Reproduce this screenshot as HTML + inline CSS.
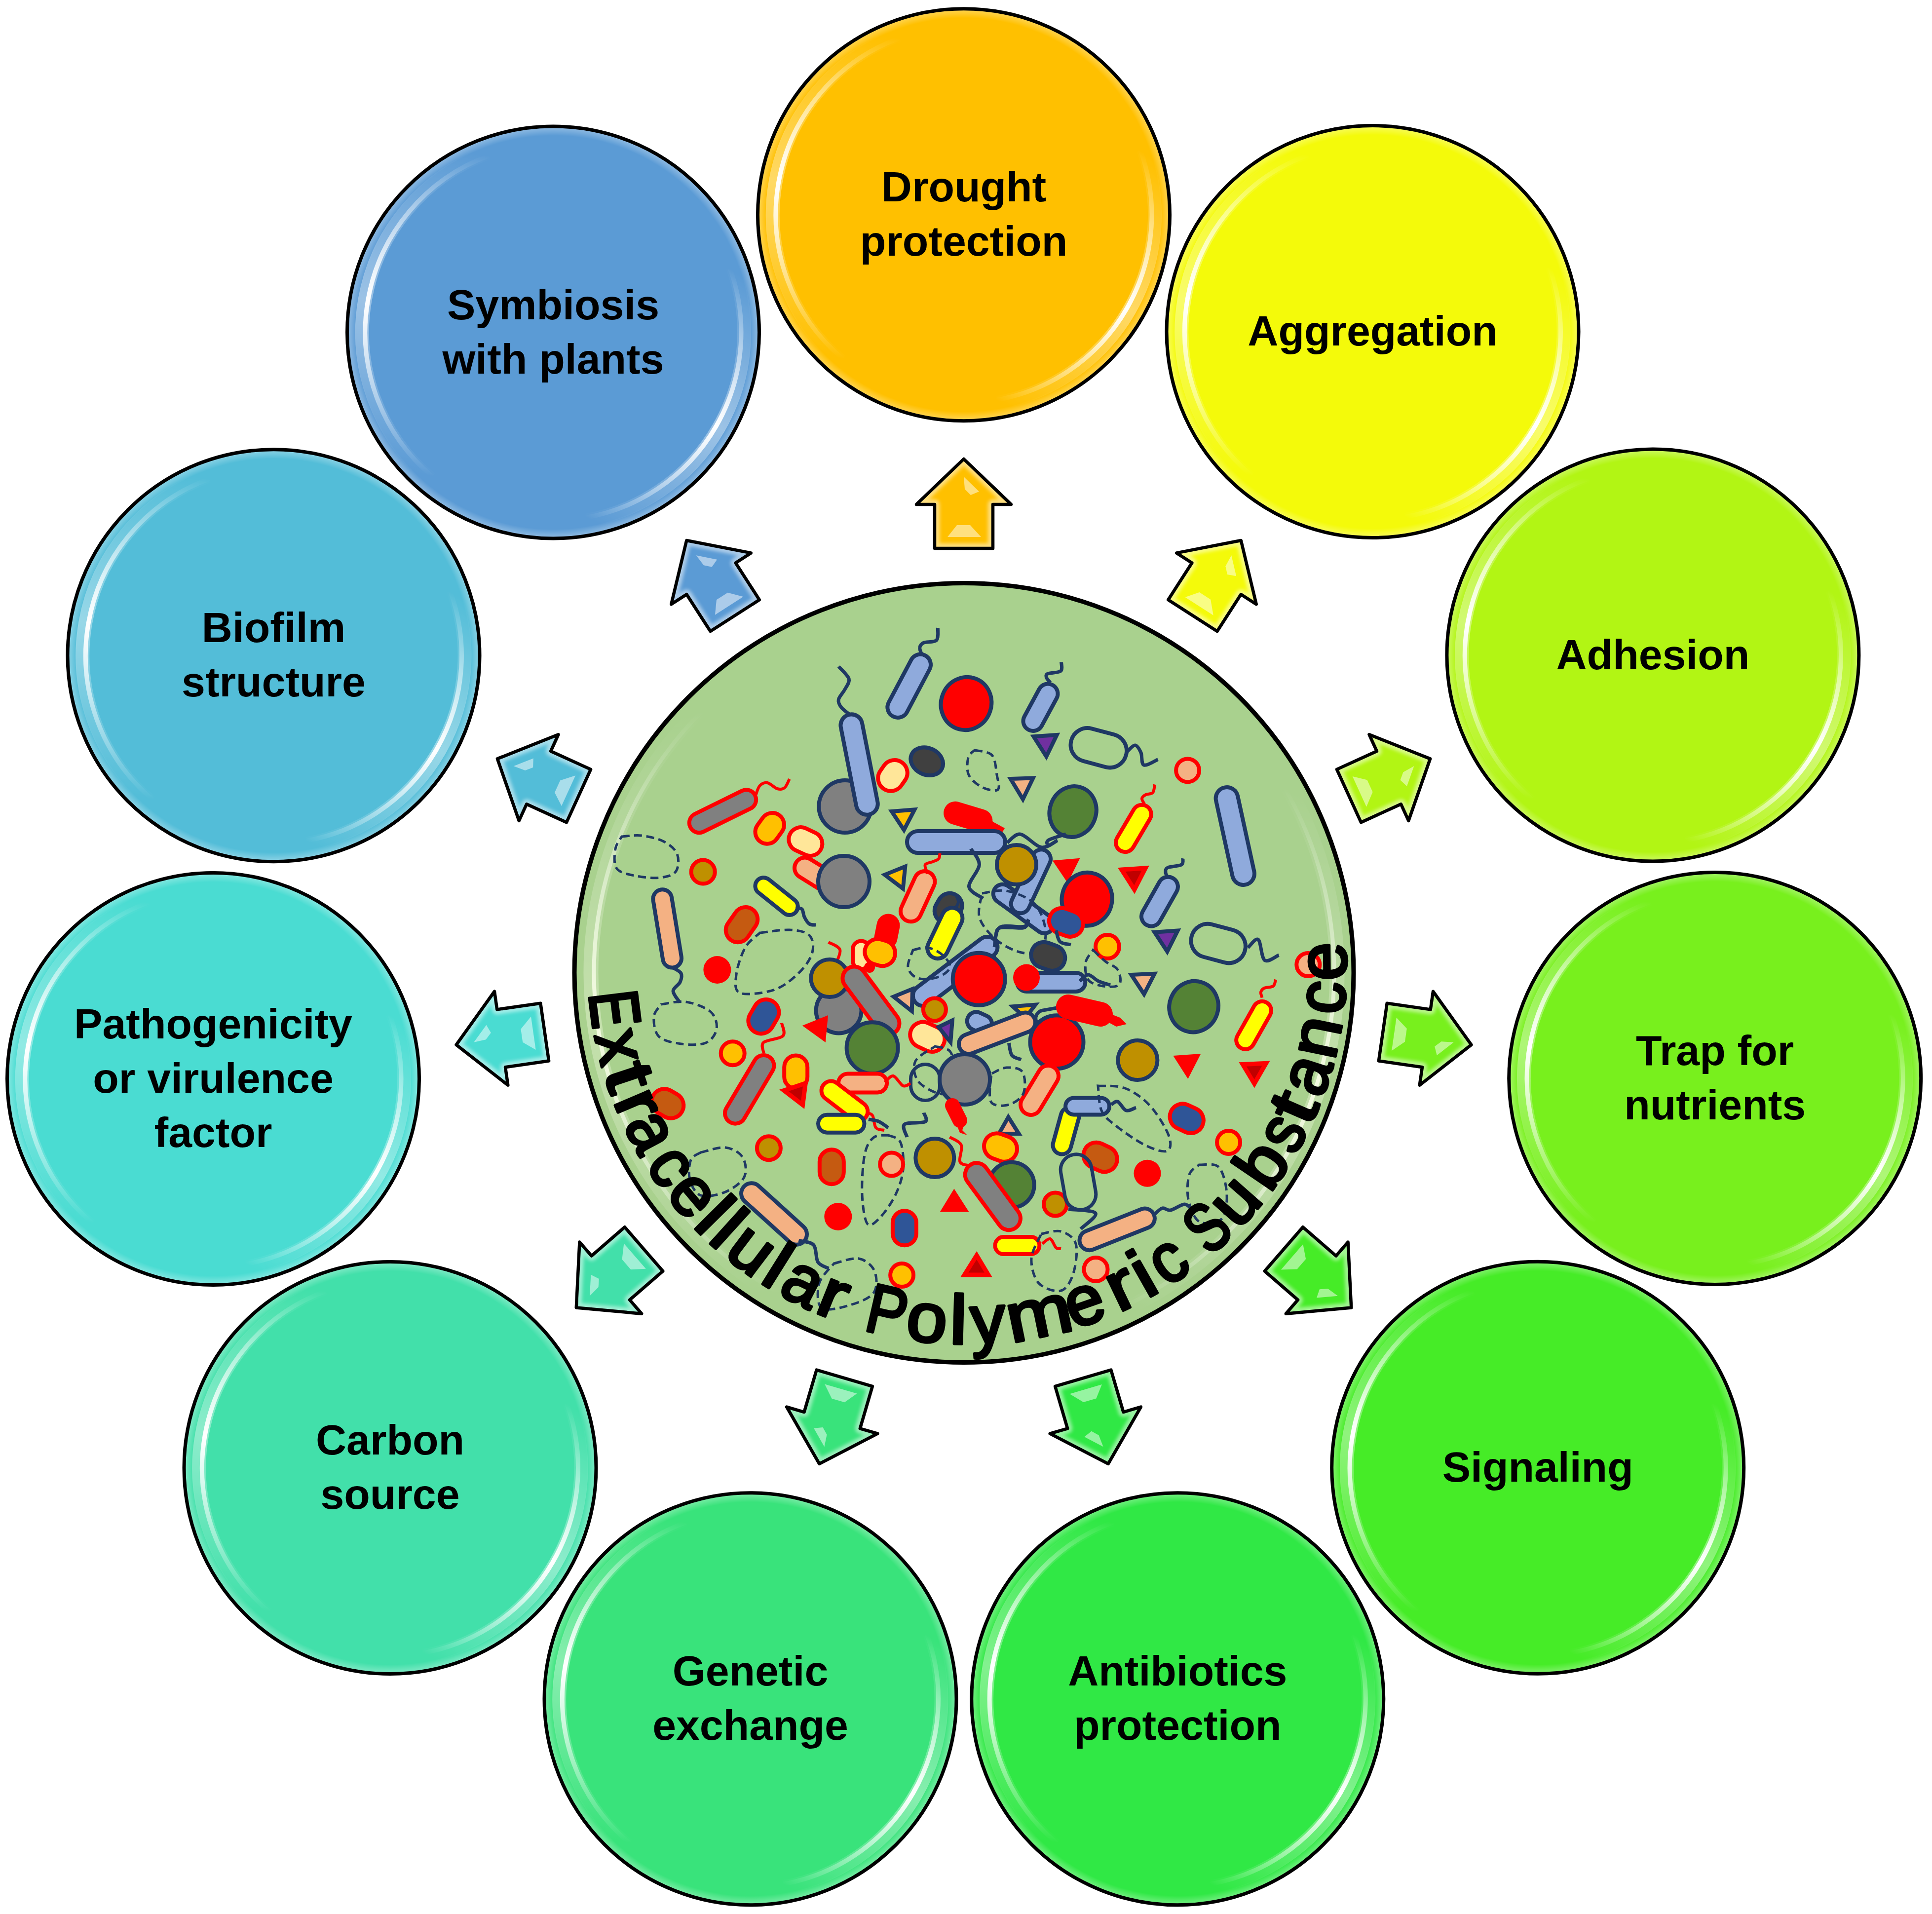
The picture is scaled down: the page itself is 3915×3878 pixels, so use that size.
<!DOCTYPE html>
<html><head><meta charset="utf-8"><style>
html,body{margin:0;padding:0;background:#fff;}
svg{display:block;}
text{font-family:"Liberation Sans",sans-serif;}
</style></head><body>
<svg width="3915" height="3878" viewBox="0 0 3915 3878">
<defs>
<filter id="soft" x="-20%" y="-20%" width="140%" height="140%"><feGaussianBlur stdDeviation="3.5"/></filter>
<radialGradient id="edge" cx="0.5" cy="0.5" r="0.5">
<stop offset="0.955" stop-color="#fff" stop-opacity="0"/>
<stop offset="1" stop-color="#fff" stop-opacity="0.35"/>
</radialGradient>
</defs>
<rect width="3915" height="3878" fill="#fff"/>

<circle cx="1953" cy="435.2" r="417.5" fill="#FFC000"/>
<circle cx="1953" cy="435.2" r="417.5" fill="url(#edge)"/>
<linearGradient id="hg0_110" gradientUnits="userSpaceOnUse" x1="1822.7" y1="77.2" x2="1708.1" y2="727.1"><stop offset="0" stop-color="#fff" stop-opacity="0"/><stop offset="0.5" stop-color="#fff" stop-opacity="1"/><stop offset="1" stop-color="#fff" stop-opacity="0"/></linearGradient>
<path d="M1820.6,71.5 A387,387 0 0 0 1704.2,731.7" fill="none" stroke="url(#hg0_110)" stroke-width="28" opacity="0.4"/>
<path d="M1822.7,77.2 A381,381 0 0 0 1708.1,727.1" fill="none" stroke="url(#hg0_110)" stroke-width="9" opacity="1.0"/>
<linearGradient id="hg0_-80" gradientUnits="userSpaceOnUse" x1="2019.2" y1="810.4" x2="2311.0" y2="304.9"><stop offset="0" stop-color="#fff" stop-opacity="0"/><stop offset="0.5" stop-color="#fff" stop-opacity="1"/><stop offset="1" stop-color="#fff" stop-opacity="0"/></linearGradient>
<path d="M2020.2,816.3 A387,387 0 0 0 2316.7,302.8" fill="none" stroke="url(#hg0_-80)" stroke-width="28" opacity="0.4"/>
<path d="M2019.2,810.4 A381,381 0 0 0 2311.0,304.9" fill="none" stroke="url(#hg0_-80)" stroke-width="9" opacity="1.0"/>
<circle cx="1953" cy="435.2" r="417.5" fill="none" stroke="#000" stroke-width="7"/>
<circle cx="2781.5" cy="672" r="417.5" fill="#F4FA0A"/>
<circle cx="2781.5" cy="672" r="417.5" fill="url(#edge)"/>
<linearGradient id="hg1_110" gradientUnits="userSpaceOnUse" x1="2651.2" y1="314.0" x2="2536.6" y2="963.9"><stop offset="0" stop-color="#fff" stop-opacity="0"/><stop offset="0.5" stop-color="#fff" stop-opacity="1"/><stop offset="1" stop-color="#fff" stop-opacity="0"/></linearGradient>
<path d="M2649.1,308.3 A387,387 0 0 0 2532.7,968.5" fill="none" stroke="url(#hg1_110)" stroke-width="28" opacity="0.4"/>
<path d="M2651.2,314.0 A381,381 0 0 0 2536.6,963.9" fill="none" stroke="url(#hg1_110)" stroke-width="9" opacity="1.0"/>
<linearGradient id="hg1_-80" gradientUnits="userSpaceOnUse" x1="2847.7" y1="1047.2" x2="3139.5" y2="541.7"><stop offset="0" stop-color="#fff" stop-opacity="0"/><stop offset="0.5" stop-color="#fff" stop-opacity="1"/><stop offset="1" stop-color="#fff" stop-opacity="0"/></linearGradient>
<path d="M2848.7,1053.1 A387,387 0 0 0 3145.2,539.6" fill="none" stroke="url(#hg1_-80)" stroke-width="28" opacity="0.4"/>
<path d="M2847.7,1047.2 A381,381 0 0 0 3139.5,541.7" fill="none" stroke="url(#hg1_-80)" stroke-width="9" opacity="1.0"/>
<circle cx="2781.5" cy="672" r="417.5" fill="none" stroke="#000" stroke-width="7"/>
<circle cx="3349.4" cy="1327.6" r="417.5" fill="#B2F514"/>
<circle cx="3349.4" cy="1327.6" r="417.5" fill="url(#edge)"/>
<linearGradient id="hg2_110" gradientUnits="userSpaceOnUse" x1="3219.1" y1="969.6" x2="3104.5" y2="1619.5"><stop offset="0" stop-color="#fff" stop-opacity="0"/><stop offset="0.5" stop-color="#fff" stop-opacity="1"/><stop offset="1" stop-color="#fff" stop-opacity="0"/></linearGradient>
<path d="M3217.0,963.9 A387,387 0 0 0 3100.6,1624.1" fill="none" stroke="url(#hg2_110)" stroke-width="28" opacity="0.4"/>
<path d="M3219.1,969.6 A381,381 0 0 0 3104.5,1619.5" fill="none" stroke="url(#hg2_110)" stroke-width="9" opacity="1.0"/>
<linearGradient id="hg2_-80" gradientUnits="userSpaceOnUse" x1="3415.6" y1="1702.8" x2="3707.4" y2="1197.3"><stop offset="0" stop-color="#fff" stop-opacity="0"/><stop offset="0.5" stop-color="#fff" stop-opacity="1"/><stop offset="1" stop-color="#fff" stop-opacity="0"/></linearGradient>
<path d="M3416.6,1708.7 A387,387 0 0 0 3713.1,1195.2" fill="none" stroke="url(#hg2_-80)" stroke-width="28" opacity="0.4"/>
<path d="M3415.6,1702.8 A381,381 0 0 0 3707.4,1197.3" fill="none" stroke="url(#hg2_-80)" stroke-width="9" opacity="1.0"/>
<circle cx="3349.4" cy="1327.6" r="417.5" fill="none" stroke="#000" stroke-width="7"/>
<circle cx="3475.2" cy="2185" r="417.5" fill="#78F01D"/>
<circle cx="3475.2" cy="2185" r="417.5" fill="url(#edge)"/>
<linearGradient id="hg3_110" gradientUnits="userSpaceOnUse" x1="3344.9" y1="1827.0" x2="3230.3" y2="2476.9"><stop offset="0" stop-color="#fff" stop-opacity="0"/><stop offset="0.5" stop-color="#fff" stop-opacity="1"/><stop offset="1" stop-color="#fff" stop-opacity="0"/></linearGradient>
<path d="M3342.8,1821.3 A387,387 0 0 0 3226.4,2481.5" fill="none" stroke="url(#hg3_110)" stroke-width="28" opacity="0.4"/>
<path d="M3344.9,1827.0 A381,381 0 0 0 3230.3,2476.9" fill="none" stroke="url(#hg3_110)" stroke-width="9" opacity="1.0"/>
<linearGradient id="hg3_-80" gradientUnits="userSpaceOnUse" x1="3541.4" y1="2560.2" x2="3833.2" y2="2054.7"><stop offset="0" stop-color="#fff" stop-opacity="0"/><stop offset="0.5" stop-color="#fff" stop-opacity="1"/><stop offset="1" stop-color="#fff" stop-opacity="0"/></linearGradient>
<path d="M3542.4,2566.1 A387,387 0 0 0 3838.9,2052.6" fill="none" stroke="url(#hg3_-80)" stroke-width="28" opacity="0.4"/>
<path d="M3541.4,2560.2 A381,381 0 0 0 3833.2,2054.7" fill="none" stroke="url(#hg3_-80)" stroke-width="9" opacity="1.0"/>
<circle cx="3475.2" cy="2185" r="417.5" fill="none" stroke="#000" stroke-width="7"/>
<circle cx="3116.2" cy="2973.8" r="417.5" fill="#46EC27"/>
<circle cx="3116.2" cy="2973.8" r="417.5" fill="url(#edge)"/>
<linearGradient id="hg4_110" gradientUnits="userSpaceOnUse" x1="2985.9" y1="2615.8" x2="2871.3" y2="3265.7"><stop offset="0" stop-color="#fff" stop-opacity="0"/><stop offset="0.5" stop-color="#fff" stop-opacity="1"/><stop offset="1" stop-color="#fff" stop-opacity="0"/></linearGradient>
<path d="M2983.8,2610.1 A387,387 0 0 0 2867.4,3270.3" fill="none" stroke="url(#hg4_110)" stroke-width="28" opacity="0.4"/>
<path d="M2985.9,2615.8 A381,381 0 0 0 2871.3,3265.7" fill="none" stroke="url(#hg4_110)" stroke-width="9" opacity="1.0"/>
<linearGradient id="hg4_-80" gradientUnits="userSpaceOnUse" x1="3182.4" y1="3349.0" x2="3474.2" y2="2843.5"><stop offset="0" stop-color="#fff" stop-opacity="0"/><stop offset="0.5" stop-color="#fff" stop-opacity="1"/><stop offset="1" stop-color="#fff" stop-opacity="0"/></linearGradient>
<path d="M3183.4,3354.9 A387,387 0 0 0 3479.9,2841.4" fill="none" stroke="url(#hg4_-80)" stroke-width="28" opacity="0.4"/>
<path d="M3182.4,3349.0 A381,381 0 0 0 3474.2,2843.5" fill="none" stroke="url(#hg4_-80)" stroke-width="9" opacity="1.0"/>
<circle cx="3116.2" cy="2973.8" r="417.5" fill="none" stroke="#000" stroke-width="7"/>
<circle cx="2386.3" cy="3442.2" r="417.5" fill="#30E845"/>
<circle cx="2386.3" cy="3442.2" r="417.5" fill="url(#edge)"/>
<linearGradient id="hg5_110" gradientUnits="userSpaceOnUse" x1="2256.0" y1="3084.2" x2="2141.4" y2="3734.1"><stop offset="0" stop-color="#fff" stop-opacity="0"/><stop offset="0.5" stop-color="#fff" stop-opacity="1"/><stop offset="1" stop-color="#fff" stop-opacity="0"/></linearGradient>
<path d="M2253.9,3078.5 A387,387 0 0 0 2137.5,3738.7" fill="none" stroke="url(#hg5_110)" stroke-width="28" opacity="0.4"/>
<path d="M2256.0,3084.2 A381,381 0 0 0 2141.4,3734.1" fill="none" stroke="url(#hg5_110)" stroke-width="9" opacity="1.0"/>
<linearGradient id="hg5_-80" gradientUnits="userSpaceOnUse" x1="2452.5" y1="3817.4" x2="2744.3" y2="3311.9"><stop offset="0" stop-color="#fff" stop-opacity="0"/><stop offset="0.5" stop-color="#fff" stop-opacity="1"/><stop offset="1" stop-color="#fff" stop-opacity="0"/></linearGradient>
<path d="M2453.5,3823.3 A387,387 0 0 0 2750.0,3309.8" fill="none" stroke="url(#hg5_-80)" stroke-width="28" opacity="0.4"/>
<path d="M2452.5,3817.4 A381,381 0 0 0 2744.3,3311.9" fill="none" stroke="url(#hg5_-80)" stroke-width="9" opacity="1.0"/>
<circle cx="2386.3" cy="3442.2" r="417.5" fill="none" stroke="#000" stroke-width="7"/>
<circle cx="1520.5" cy="3442.3" r="417.5" fill="#39E37B"/>
<circle cx="1520.5" cy="3442.3" r="417.5" fill="url(#edge)"/>
<linearGradient id="hg6_110" gradientUnits="userSpaceOnUse" x1="1390.2" y1="3084.3" x2="1275.6" y2="3734.2"><stop offset="0" stop-color="#fff" stop-opacity="0"/><stop offset="0.5" stop-color="#fff" stop-opacity="1"/><stop offset="1" stop-color="#fff" stop-opacity="0"/></linearGradient>
<path d="M1388.1,3078.6 A387,387 0 0 0 1271.7,3738.8" fill="none" stroke="url(#hg6_110)" stroke-width="28" opacity="0.4"/>
<path d="M1390.2,3084.3 A381,381 0 0 0 1275.6,3734.2" fill="none" stroke="url(#hg6_110)" stroke-width="9" opacity="1.0"/>
<linearGradient id="hg6_-80" gradientUnits="userSpaceOnUse" x1="1586.7" y1="3817.5" x2="1878.5" y2="3312.0"><stop offset="0" stop-color="#fff" stop-opacity="0"/><stop offset="0.5" stop-color="#fff" stop-opacity="1"/><stop offset="1" stop-color="#fff" stop-opacity="0"/></linearGradient>
<path d="M1587.7,3823.4 A387,387 0 0 0 1884.2,3309.9" fill="none" stroke="url(#hg6_-80)" stroke-width="28" opacity="0.4"/>
<path d="M1586.7,3817.5 A381,381 0 0 0 1878.5,3312.0" fill="none" stroke="url(#hg6_-80)" stroke-width="9" opacity="1.0"/>
<circle cx="1520.5" cy="3442.3" r="417.5" fill="none" stroke="#000" stroke-width="7"/>
<circle cx="790.5" cy="2974" r="417.5" fill="#42E0AA"/>
<circle cx="790.5" cy="2974" r="417.5" fill="url(#edge)"/>
<linearGradient id="hg7_110" gradientUnits="userSpaceOnUse" x1="660.2" y1="2616.0" x2="545.6" y2="3265.9"><stop offset="0" stop-color="#fff" stop-opacity="0"/><stop offset="0.5" stop-color="#fff" stop-opacity="1"/><stop offset="1" stop-color="#fff" stop-opacity="0"/></linearGradient>
<path d="M658.1,2610.3 A387,387 0 0 0 541.7,3270.5" fill="none" stroke="url(#hg7_110)" stroke-width="28" opacity="0.4"/>
<path d="M660.2,2616.0 A381,381 0 0 0 545.6,3265.9" fill="none" stroke="url(#hg7_110)" stroke-width="9" opacity="1.0"/>
<linearGradient id="hg7_-80" gradientUnits="userSpaceOnUse" x1="856.7" y1="3349.2" x2="1148.5" y2="2843.7"><stop offset="0" stop-color="#fff" stop-opacity="0"/><stop offset="0.5" stop-color="#fff" stop-opacity="1"/><stop offset="1" stop-color="#fff" stop-opacity="0"/></linearGradient>
<path d="M857.7,3355.1 A387,387 0 0 0 1154.2,2841.6" fill="none" stroke="url(#hg7_-80)" stroke-width="28" opacity="0.4"/>
<path d="M856.7,3349.2 A381,381 0 0 0 1148.5,2843.7" fill="none" stroke="url(#hg7_-80)" stroke-width="9" opacity="1.0"/>
<circle cx="790.5" cy="2974" r="417.5" fill="none" stroke="#000" stroke-width="7"/>
<circle cx="432" cy="2186" r="417.5" fill="#4ADCD2"/>
<circle cx="432" cy="2186" r="417.5" fill="url(#edge)"/>
<linearGradient id="hg8_110" gradientUnits="userSpaceOnUse" x1="301.7" y1="1828.0" x2="187.1" y2="2477.9"><stop offset="0" stop-color="#fff" stop-opacity="0"/><stop offset="0.5" stop-color="#fff" stop-opacity="1"/><stop offset="1" stop-color="#fff" stop-opacity="0"/></linearGradient>
<path d="M299.6,1822.3 A387,387 0 0 0 183.2,2482.5" fill="none" stroke="url(#hg8_110)" stroke-width="28" opacity="0.4"/>
<path d="M301.7,1828.0 A381,381 0 0 0 187.1,2477.9" fill="none" stroke="url(#hg8_110)" stroke-width="9" opacity="1.0"/>
<linearGradient id="hg8_-80" gradientUnits="userSpaceOnUse" x1="498.2" y1="2561.2" x2="790.0" y2="2055.7"><stop offset="0" stop-color="#fff" stop-opacity="0"/><stop offset="0.5" stop-color="#fff" stop-opacity="1"/><stop offset="1" stop-color="#fff" stop-opacity="0"/></linearGradient>
<path d="M499.2,2567.1 A387,387 0 0 0 795.7,2053.6" fill="none" stroke="url(#hg8_-80)" stroke-width="28" opacity="0.4"/>
<path d="M498.2,2561.2 A381,381 0 0 0 790.0,2055.7" fill="none" stroke="url(#hg8_-80)" stroke-width="9" opacity="1.0"/>
<circle cx="432" cy="2186" r="417.5" fill="none" stroke="#000" stroke-width="7"/>
<circle cx="554.5" cy="1328.3" r="417.5" fill="#53BDD8"/>
<circle cx="554.5" cy="1328.3" r="417.5" fill="url(#edge)"/>
<linearGradient id="hg9_110" gradientUnits="userSpaceOnUse" x1="424.2" y1="970.3" x2="309.6" y2="1620.2"><stop offset="0" stop-color="#fff" stop-opacity="0"/><stop offset="0.5" stop-color="#fff" stop-opacity="1"/><stop offset="1" stop-color="#fff" stop-opacity="0"/></linearGradient>
<path d="M422.1,964.6 A387,387 0 0 0 305.7,1624.8" fill="none" stroke="url(#hg9_110)" stroke-width="28" opacity="0.4"/>
<path d="M424.2,970.3 A381,381 0 0 0 309.6,1620.2" fill="none" stroke="url(#hg9_110)" stroke-width="9" opacity="1.0"/>
<linearGradient id="hg9_-80" gradientUnits="userSpaceOnUse" x1="620.7" y1="1703.5" x2="912.5" y2="1198.0"><stop offset="0" stop-color="#fff" stop-opacity="0"/><stop offset="0.5" stop-color="#fff" stop-opacity="1"/><stop offset="1" stop-color="#fff" stop-opacity="0"/></linearGradient>
<path d="M621.7,1709.4 A387,387 0 0 0 918.2,1195.9" fill="none" stroke="url(#hg9_-80)" stroke-width="28" opacity="0.4"/>
<path d="M620.7,1703.5 A381,381 0 0 0 912.5,1198.0" fill="none" stroke="url(#hg9_-80)" stroke-width="9" opacity="1.0"/>
<circle cx="554.5" cy="1328.3" r="417.5" fill="none" stroke="#000" stroke-width="7"/>
<circle cx="1121" cy="673.5" r="417.5" fill="#5B9BD5"/>
<circle cx="1121" cy="673.5" r="417.5" fill="url(#edge)"/>
<linearGradient id="hg10_110" gradientUnits="userSpaceOnUse" x1="990.7" y1="315.5" x2="876.1" y2="965.4"><stop offset="0" stop-color="#fff" stop-opacity="0"/><stop offset="0.5" stop-color="#fff" stop-opacity="1"/><stop offset="1" stop-color="#fff" stop-opacity="0"/></linearGradient>
<path d="M988.6,309.8 A387,387 0 0 0 872.2,970.0" fill="none" stroke="url(#hg10_110)" stroke-width="28" opacity="0.4"/>
<path d="M990.7,315.5 A381,381 0 0 0 876.1,965.4" fill="none" stroke="url(#hg10_110)" stroke-width="9" opacity="1.0"/>
<linearGradient id="hg10_-80" gradientUnits="userSpaceOnUse" x1="1187.2" y1="1048.7" x2="1479.0" y2="543.2"><stop offset="0" stop-color="#fff" stop-opacity="0"/><stop offset="0.5" stop-color="#fff" stop-opacity="1"/><stop offset="1" stop-color="#fff" stop-opacity="0"/></linearGradient>
<path d="M1188.2,1054.6 A387,387 0 0 0 1484.7,541.1" fill="none" stroke="url(#hg10_-80)" stroke-width="28" opacity="0.4"/>
<path d="M1187.2,1048.7 A381,381 0 0 0 1479.0,543.2" fill="none" stroke="url(#hg10_-80)" stroke-width="9" opacity="1.0"/>
<circle cx="1121" cy="673.5" r="417.5" fill="none" stroke="#000" stroke-width="7"/>
<clipPath id="ac"><path d="M0,-1039 L96,-947 L59,-947 L59,-858 L-59,-858 L-59,-947 L-96,-947 Z"/></clipPath>
<g transform="translate(1953,1969) rotate(0.0000)">
<path d="M0,-1039 L96,-947 L59,-947 L59,-858 L-59,-858 L-59,-947 L-96,-947 Z" fill="#FFC000"/>
<g clip-path="url(#ac)"><path d="M0,-1039 L96,-947 L59,-947 L59,-858 L-59,-858 L-59,-947 L-96,-947 Z" fill="none" stroke="#fff" stroke-width="20" opacity="0.5" stroke-linejoin="round" filter="url(#soft)"/></g>
<path d="M0,-1003 L31,-973 L14,-966 L2,-978 Z" fill="#FFE38C" opacity="0.9"/>
<path d="M-14,-905 L13,-905 L35,-881 L-33,-881 Z" fill="#FFE38C" opacity="0.9"/>
<path d="M0,-1039 L96,-947 L59,-947 L59,-858 L-59,-858 L-59,-947 L-96,-947 Z" fill="none" stroke="#000" stroke-width="6.5" stroke-linejoin="round"/>
</g>
<g transform="translate(1953,1969) rotate(32.7273)">
<path d="M0,-1039 L96,-947 L59,-947 L59,-858 L-59,-858 L-59,-947 L-96,-947 Z" fill="#F4FA0A"/>
<g clip-path="url(#ac)"><path d="M0,-1039 L96,-947 L59,-947 L59,-858 L-59,-858 L-59,-947 L-96,-947 Z" fill="none" stroke="#fff" stroke-width="20" opacity="0.5" stroke-linejoin="round" filter="url(#soft)"/></g>
<path d="M0,-1003 L31,-973 L14,-966 L2,-978 Z" fill="#FAFD91" opacity="0.9"/>
<path d="M-14,-905 L13,-905 L35,-881 L-33,-881 Z" fill="#FAFD91" opacity="0.9"/>
<path d="M0,-1039 L96,-947 L59,-947 L59,-858 L-59,-858 L-59,-947 L-96,-947 Z" fill="none" stroke="#000" stroke-width="6.5" stroke-linejoin="round"/>
</g>
<g transform="translate(1953,1969) rotate(65.4545)">
<path d="M0,-1039 L96,-947 L59,-947 L59,-858 L-59,-858 L-59,-947 L-96,-947 Z" fill="#B2F514"/>
<g clip-path="url(#ac)"><path d="M0,-1039 L96,-947 L59,-947 L59,-858 L-59,-858 L-59,-947 L-96,-947 Z" fill="none" stroke="#fff" stroke-width="20" opacity="0.5" stroke-linejoin="round" filter="url(#soft)"/></g>
<path d="M0,-1003 L31,-973 L14,-966 L2,-978 Z" fill="#DCFB95" opacity="0.9"/>
<path d="M-14,-905 L13,-905 L35,-881 L-33,-881 Z" fill="#DCFB95" opacity="0.9"/>
<path d="M0,-1039 L96,-947 L59,-947 L59,-858 L-59,-858 L-59,-947 L-96,-947 Z" fill="none" stroke="#000" stroke-width="6.5" stroke-linejoin="round"/>
</g>
<g transform="translate(1953,1969) rotate(98.1818)">
<path d="M0,-1039 L96,-947 L59,-947 L59,-858 L-59,-858 L-59,-947 L-96,-947 Z" fill="#78F01D"/>
<g clip-path="url(#ac)"><path d="M0,-1039 L96,-947 L59,-947 L59,-858 L-59,-858 L-59,-947 L-96,-947 Z" fill="none" stroke="#fff" stroke-width="20" opacity="0.5" stroke-linejoin="round" filter="url(#soft)"/></g>
<path d="M0,-1003 L31,-973 L14,-966 L2,-978 Z" fill="#C2F899" opacity="0.9"/>
<path d="M-14,-905 L13,-905 L35,-881 L-33,-881 Z" fill="#C2F899" opacity="0.9"/>
<path d="M0,-1039 L96,-947 L59,-947 L59,-858 L-59,-858 L-59,-947 L-96,-947 Z" fill="none" stroke="#000" stroke-width="6.5" stroke-linejoin="round"/>
</g>
<g transform="translate(1953,1969) rotate(130.9091)">
<path d="M0,-1039 L96,-947 L59,-947 L59,-858 L-59,-858 L-59,-947 L-96,-947 Z" fill="#46EC27"/>
<g clip-path="url(#ac)"><path d="M0,-1039 L96,-947 L59,-947 L59,-858 L-59,-858 L-59,-947 L-96,-947 Z" fill="none" stroke="#fff" stroke-width="20" opacity="0.5" stroke-linejoin="round" filter="url(#soft)"/></g>
<path d="M0,-1003 L31,-973 L14,-966 L2,-978 Z" fill="#ACF69E" opacity="0.9"/>
<path d="M-14,-905 L13,-905 L35,-881 L-33,-881 Z" fill="#ACF69E" opacity="0.9"/>
<path d="M0,-1039 L96,-947 L59,-947 L59,-858 L-59,-858 L-59,-947 L-96,-947 Z" fill="none" stroke="#000" stroke-width="6.5" stroke-linejoin="round"/>
</g>
<g transform="translate(1953,1969) rotate(163.6364)">
<path d="M0,-1039 L96,-947 L59,-947 L59,-858 L-59,-858 L-59,-947 L-96,-947 Z" fill="#30E845"/>
<g clip-path="url(#ac)"><path d="M0,-1039 L96,-947 L59,-947 L59,-858 L-59,-858 L-59,-947 L-96,-947 Z" fill="none" stroke="#fff" stroke-width="20" opacity="0.5" stroke-linejoin="round" filter="url(#soft)"/></g>
<path d="M0,-1003 L31,-973 L14,-966 L2,-978 Z" fill="#A2F5AB" opacity="0.9"/>
<path d="M-14,-905 L13,-905 L35,-881 L-33,-881 Z" fill="#A2F5AB" opacity="0.9"/>
<path d="M0,-1039 L96,-947 L59,-947 L59,-858 L-59,-858 L-59,-947 L-96,-947 Z" fill="none" stroke="#000" stroke-width="6.5" stroke-linejoin="round"/>
</g>
<g transform="translate(1953,1969) rotate(196.3636)">
<path d="M0,-1039 L96,-947 L59,-947 L59,-858 L-59,-858 L-59,-947 L-96,-947 Z" fill="#39E37B"/>
<g clip-path="url(#ac)"><path d="M0,-1039 L96,-947 L59,-947 L59,-858 L-59,-858 L-59,-947 L-96,-947 Z" fill="none" stroke="#fff" stroke-width="20" opacity="0.5" stroke-linejoin="round" filter="url(#soft)"/></g>
<path d="M0,-1003 L31,-973 L14,-966 L2,-978 Z" fill="#A6F2C4" opacity="0.9"/>
<path d="M-14,-905 L13,-905 L35,-881 L-33,-881 Z" fill="#A6F2C4" opacity="0.9"/>
<path d="M0,-1039 L96,-947 L59,-947 L59,-858 L-59,-858 L-59,-947 L-96,-947 Z" fill="none" stroke="#000" stroke-width="6.5" stroke-linejoin="round"/>
</g>
<g transform="translate(1953,1969) rotate(229.0909)">
<path d="M0,-1039 L96,-947 L59,-947 L59,-858 L-59,-858 L-59,-947 L-96,-947 Z" fill="#42E0AA"/>
<g clip-path="url(#ac)"><path d="M0,-1039 L96,-947 L59,-947 L59,-858 L-59,-858 L-59,-947 L-96,-947 Z" fill="none" stroke="#fff" stroke-width="20" opacity="0.5" stroke-linejoin="round" filter="url(#soft)"/></g>
<path d="M0,-1003 L31,-973 L14,-966 L2,-978 Z" fill="#AAF1D9" opacity="0.9"/>
<path d="M-14,-905 L13,-905 L35,-881 L-33,-881 Z" fill="#AAF1D9" opacity="0.9"/>
<path d="M0,-1039 L96,-947 L59,-947 L59,-858 L-59,-858 L-59,-947 L-96,-947 Z" fill="none" stroke="#000" stroke-width="6.5" stroke-linejoin="round"/>
</g>
<g transform="translate(1953,1969) rotate(261.8182)">
<path d="M0,-1039 L96,-947 L59,-947 L59,-858 L-59,-858 L-59,-947 L-96,-947 Z" fill="#4ADCD2"/>
<g clip-path="url(#ac)"><path d="M0,-1039 L96,-947 L59,-947 L59,-858 L-59,-858 L-59,-947 L-96,-947 Z" fill="none" stroke="#fff" stroke-width="20" opacity="0.5" stroke-linejoin="round" filter="url(#soft)"/></g>
<path d="M0,-1003 L31,-973 L14,-966 L2,-978 Z" fill="#AEEFEB" opacity="0.9"/>
<path d="M-14,-905 L13,-905 L35,-881 L-33,-881 Z" fill="#AEEFEB" opacity="0.9"/>
<path d="M0,-1039 L96,-947 L59,-947 L59,-858 L-59,-858 L-59,-947 L-96,-947 Z" fill="none" stroke="#000" stroke-width="6.5" stroke-linejoin="round"/>
</g>
<g transform="translate(1953,1969) rotate(294.5455)">
<path d="M0,-1039 L96,-947 L59,-947 L59,-858 L-59,-858 L-59,-947 L-96,-947 Z" fill="#53BDD8"/>
<g clip-path="url(#ac)"><path d="M0,-1039 L96,-947 L59,-947 L59,-858 L-59,-858 L-59,-947 L-96,-947 Z" fill="none" stroke="#fff" stroke-width="20" opacity="0.5" stroke-linejoin="round" filter="url(#soft)"/></g>
<path d="M0,-1003 L31,-973 L14,-966 L2,-978 Z" fill="#B2E1ED" opacity="0.9"/>
<path d="M-14,-905 L13,-905 L35,-881 L-33,-881 Z" fill="#B2E1ED" opacity="0.9"/>
<path d="M0,-1039 L96,-947 L59,-947 L59,-858 L-59,-858 L-59,-947 L-96,-947 Z" fill="none" stroke="#000" stroke-width="6.5" stroke-linejoin="round"/>
</g>
<g transform="translate(1953,1969) rotate(327.2727)">
<path d="M0,-1039 L96,-947 L59,-947 L59,-858 L-59,-858 L-59,-947 L-96,-947 Z" fill="#5B9BD5"/>
<g clip-path="url(#ac)"><path d="M0,-1039 L96,-947 L59,-947 L59,-858 L-59,-858 L-59,-947 L-96,-947 Z" fill="none" stroke="#fff" stroke-width="20" opacity="0.5" stroke-linejoin="round" filter="url(#soft)"/></g>
<path d="M0,-1003 L31,-973 L14,-966 L2,-978 Z" fill="#B5D2EC" opacity="0.9"/>
<path d="M-14,-905 L13,-905 L35,-881 L-33,-881 Z" fill="#B5D2EC" opacity="0.9"/>
<path d="M0,-1039 L96,-947 L59,-947 L59,-858 L-59,-858 L-59,-947 L-96,-947 Z" fill="none" stroke="#000" stroke-width="6.5" stroke-linejoin="round"/>
</g>
<circle cx="1953.5" cy="1971" r="789.5" fill="#A9D18E"/>
<linearGradient id="hgc_135" gradientUnits="userSpaceOnUse" x1="1423.2" y1="1440.7" x2="1578.5" y2="2620.5"><stop offset="0" stop-color="#fff" stop-opacity="0"/><stop offset="0.5" stop-color="#FAFFE8" stop-opacity="1"/><stop offset="1" stop-color="#fff" stop-opacity="0"/></linearGradient>
<path d="M1418.9,1436.4 A756,756 0 0 0 1575.5,2625.7" fill="none" stroke="url(#hgc_135)" stroke-width="30" opacity="0.35"/>
<path d="M1423.2,1440.7 A750,750 0 0 0 1578.5,2620.5" fill="none" stroke="url(#hgc_135)" stroke-width="8" opacity="0.9"/>
<linearGradient id="hgc_-65" gradientUnits="userSpaceOnUse" x1="2270.5" y1="2650.7" x2="2603.0" y2="1596.0"><stop offset="0" stop-color="#fff" stop-opacity="0"/><stop offset="0.5" stop-color="#FAFFE8" stop-opacity="1"/><stop offset="1" stop-color="#fff" stop-opacity="0"/></linearGradient>
<path d="M2273.0,2656.2 A756,756 0 0 0 2608.2,1593.0" fill="none" stroke="url(#hgc_-65)" stroke-width="30" opacity="0.35"/>
<path d="M2270.5,2650.7 A750,750 0 0 0 2603.0,1596.0" fill="none" stroke="url(#hgc_-65)" stroke-width="8" opacity="0.9"/>
<g id="bact">
<circle cx="1712.3" cy="1634.0" r="53.0" fill="#808080" stroke="#1F3864" stroke-width="8"/>
<rect x="-103.2" y="-22.0" width="206.4" height="44.0" rx="22.0" transform="translate(1741.1,1549.1) rotate(78.9)" fill="#8FAADC" stroke="#1F3864" stroke-width="8"/>
<path d="M1722.8,1448.5 C1719.8,1445.9 1708.4,1438.1 1704.5,1432.9 C1700.6,1427.7 1698.0,1423.3 1699.3,1417.2 C1700.6,1411.1 1708.8,1403.3 1712.3,1396.3 C1715.8,1389.3 1722.4,1383.0 1720.2,1375.4 C1718.0,1367.8 1702.8,1354.7 1699.3,1350.6" fill="none" stroke="#1F3864" stroke-width="7" stroke-linecap="butt" stroke-linejoin="round"/>
<rect x="-69.8" y="-21.0" width="139.6" height="42.0" rx="21.0" transform="translate(1842.2,1389.8) rotate(117.9)" fill="#8FAADC" stroke="#1F3864" stroke-width="8"/>
<path d="M1869.0,1328.4 C1868.1,1325.8 1863.3,1317.1 1863.8,1312.7 C1864.2,1308.3 1866.0,1304.8 1871.7,1302.2 C1877.4,1299.6 1893.0,1302.0 1897.8,1297.0 C1902.6,1292.0 1900.0,1276.3 1900.4,1272.2" fill="none" stroke="#1F3864" stroke-width="7" stroke-linecap="butt" stroke-linejoin="round"/>
<ellipse cx="0" cy="0" rx="51.0" ry="54.0" transform="translate(1957.9,1425.5) rotate(20)" fill="#FF0000" stroke="#1F3864" stroke-width="8"/>
<ellipse cx="0" cy="0" rx="34.0" ry="27.0" transform="translate(1878.2,1542.6) rotate(25)" fill="#404040" stroke="#1F3864" stroke-width="8"/>
<rect x="-32.5" y="-26.0" width="65.0" height="52.0" rx="26.0" transform="translate(1809.0,1571.3) rotate(-55.0)" fill="#FFE699" stroke="#FF0000" stroke-width="8"/>
<path d="M1975.0,1520.0 C1980.8,1521.7 2002.5,1521.7 2010.0,1530.0 C2017.5,1538.3 2018.0,1558.3 2020.0,1570.0 C2022.0,1581.7 2027.0,1595.8 2022.0,1600.0 C2017.0,1604.2 1999.8,1600.0 1990.0,1595.0 C1980.2,1590.0 1967.7,1580.0 1963.0,1570.0 C1958.3,1560.0 1960.0,1543.3 1962.0,1535.0 C1964.0,1526.7 1972.8,1522.5 1975.0,1520.0Z" fill="none" stroke="#1F3864" stroke-width="5" stroke-dasharray="16,9"/>
<polygon points="2047.8,1578.1 2093.4,1576.4 2072.8,1619.4" fill="#F4B183" stroke="#1F3864" stroke-width="8" stroke-linejoin="miter"/>
<polygon points="1806.9,1643.9 1853.3,1640.4 1831.8,1681.7" fill="#FFC000" stroke="#1F3864" stroke-width="8" stroke-linejoin="miter"/>
<rect x="-50.8" y="-23.5" width="101.6" height="47.0" rx="23.5" transform="translate(1961.7,1655.1) rotate(16.7)" fill="#FF0000"/>
<path d="M1990,1645 L2003,1650 L2012,1665 L2025,1672 L2036,1678 L2030,1688 L2012,1684 L1995,1684 Z" fill="#FF0000"/>
<rect x="-99.5" y="-22.0" width="199.0" height="44.0" rx="22.0" transform="translate(1937.5,1706.0) rotate(0.0)" fill="#8FAADC" stroke="#1F3864" stroke-width="8"/>
<rect x="-51.5" y="-20.0" width="103.1" height="40.0" rx="20.0" transform="translate(2108.5,1433.2) rotate(118.4)" fill="#8FAADC" stroke="#1F3864" stroke-width="8"/>
<path d="M2128.4,1383.2 C2127.1,1381.5 2121.4,1375.8 2120.5,1372.8 C2119.6,1369.8 2118.3,1367.2 2123.1,1365.0 C2127.9,1362.8 2144.7,1363.6 2149.3,1359.7 C2153.9,1355.8 2150.4,1344.5 2150.6,1341.4" fill="none" stroke="#1F3864" stroke-width="7" stroke-linecap="butt" stroke-linejoin="round"/>
<polygon points="2094.5,1492.3 2141.6,1489.0 2120.3,1532.8" fill="#7030A0" stroke="#1F3864" stroke-width="8" stroke-linejoin="miter"/>
<rect x="-57.5" y="-34.0" width="115.0" height="68.0" rx="34.0" transform="translate(2226.3,1515.2) rotate(15.0)" fill="none" stroke="#1F3864" stroke-width="8"/>
<path d="M2283.0,1524.0 C2285.8,1521.7 2295.2,1509.8 2300.0,1510.0 C2304.8,1510.2 2309.0,1518.3 2312.0,1525.0 C2315.0,1531.7 2312.2,1547.7 2318.0,1550.0 C2323.8,1552.3 2341.8,1540.6 2346.5,1538.7" fill="none" stroke="#1F3864" stroke-width="7" stroke-linecap="butt" stroke-linejoin="round"/>
<circle cx="2406.6" cy="1560.9" r="23.5" fill="#F4B183" stroke="#FF0000" stroke-width="8"/>
<ellipse cx="0" cy="0" rx="47.0" ry="52.0" transform="translate(2174.1,1644.5) rotate(20)" fill="#548235" stroke="#1F3864" stroke-width="8"/>
<path d="M2143.0,1702.7 C2137.5,1705.0 2122.5,1718.9 2110.0,1716.8 C2097.5,1714.7 2079.3,1691.8 2067.8,1690.2 C2056.3,1688.6 2045.5,1704.5 2041.0,1707.4" fill="none" stroke="#1F3864" stroke-width="7" stroke-linecap="butt" stroke-linejoin="round"/>
<path d="M2160.0,1690.0 C2154.2,1692.0 2131.3,1698.3 2125.0,1702.0 C2118.7,1705.7 2122.5,1710.3 2122.0,1712.0" fill="none" stroke="#1F3864" stroke-width="7" stroke-linecap="butt" stroke-linejoin="round"/>
<rect x="-52.4" y="-19.0" width="104.7" height="38.0" rx="19.0" transform="translate(2296.9,1678.5) rotate(120.5)" fill="#FFFF00" stroke="#FF0000" stroke-width="8"/>
<path d="M2319.0,1628.8 C2318.2,1627.0 2313.5,1621.1 2314.0,1618.0 C2314.5,1614.9 2318.3,1612.0 2322.0,1610.0 C2325.7,1608.0 2333.0,1609.4 2336.0,1606.0 C2339.0,1602.6 2339.3,1592.3 2340.0,1589.6" fill="none" stroke="#FF0000" stroke-width="6" stroke-linecap="butt" stroke-linejoin="round"/>
<rect x="-100.7" y="-22.5" width="201.4" height="45.0" rx="22.5" transform="translate(2502.8,1694.0) rotate(77.7)" fill="#8FAADC" stroke="#1F3864" stroke-width="8"/>
<rect x="-73.2" y="-20.0" width="146.3" height="40.0" rx="20.0" transform="translate(1464.5,1643.7) rotate(-26.2)" fill="#808080" stroke="#FF0000" stroke-width="8"/>
<path d="M1531.8,1609.7 C1533.1,1606.8 1535.7,1596.0 1539.6,1592.0 C1543.5,1588.0 1549.1,1585.0 1555.0,1586.0 C1560.9,1587.0 1569.2,1596.3 1575.0,1598.0 C1580.8,1599.7 1585.9,1599.3 1590.0,1596.0 C1594.1,1592.7 1598.1,1581.3 1599.7,1578.4" fill="none" stroke="#FF0000" stroke-width="6" stroke-linecap="butt" stroke-linejoin="round"/>
<rect x="-33.0" y="-24.0" width="66.0" height="48.0" rx="24.0" transform="translate(1559.7,1678.4) rotate(-54.0)" fill="#FFC000" stroke="#FF0000" stroke-width="8"/>
<rect x="-35.0" y="-24.5" width="70.0" height="49.0" rx="24.5" transform="translate(1632.3,1705.1) rotate(25.0)" fill="#FFE699" stroke="#FF0000" stroke-width="8"/>
<rect x="-45.1" y="-21.0" width="90.2" height="42.0" rx="21.0" transform="translate(1651.5,1771.3) rotate(31.8)" fill="#F4B183" stroke="#FF0000" stroke-width="8"/>
<path d="M1260.0,1695.0 C1266.7,1694.7 1285.8,1691.3 1300.0,1693.0 C1314.2,1694.7 1333.0,1698.8 1345.0,1705.0 C1357.0,1711.2 1367.8,1720.0 1372.0,1730.0 C1376.2,1740.0 1375.3,1757.0 1370.0,1765.0 C1364.7,1773.0 1353.3,1776.3 1340.0,1778.0 C1326.7,1779.7 1305.0,1778.0 1290.0,1775.0 C1275.0,1772.0 1257.2,1769.2 1250.0,1760.0 C1242.8,1750.8 1245.3,1730.8 1247.0,1720.0 C1248.7,1709.2 1257.8,1699.2 1260.0,1695.0Z" fill="none" stroke="#1F3864" stroke-width="5" stroke-dasharray="16,9"/>
<circle cx="1424.7" cy="1766.5" r="24.0" fill="#BF9000" stroke="#FF0000" stroke-width="8"/>
<rect x="-50.5" y="-17.0" width="101.0" height="34.0" rx="17.0" transform="translate(1573.6,1816.1) rotate(38.6)" fill="#FFFF00" stroke="#1F3864" stroke-width="8"/>
<path d="M1612.0,1840.0 C1614.2,1840.3 1622.0,1839.0 1625.0,1842.0 C1628.0,1845.0 1627.5,1853.0 1630.0,1858.0 C1632.5,1863.0 1636.1,1869.3 1640.0,1872.0 C1643.9,1874.7 1651.0,1873.7 1653.2,1874.0" fill="none" stroke="#1F3864" stroke-width="7" stroke-linecap="butt" stroke-linejoin="round"/>
<rect x="-79.9" y="-19.0" width="159.8" height="38.0" rx="19.0" transform="translate(1352.2,1881.4) rotate(80.7)" fill="#F4B183" stroke="#1F3864" stroke-width="8"/>
<path d="M1362.0,1959.8 C1365.0,1961.8 1377.3,1967.0 1380.0,1972.0 C1382.7,1977.0 1380.7,1984.0 1378.0,1990.0 C1375.3,1996.0 1364.1,2001.2 1364.0,2008.0 C1363.9,2014.8 1375.3,2027.2 1377.6,2031.0" fill="none" stroke="#1F3864" stroke-width="7" stroke-linecap="butt" stroke-linejoin="round"/>
<rect x="-38.0" y="-24.5" width="76.0" height="49.0" rx="24.5" transform="translate(1503.0,1873.6) rotate(-55.0)" fill="#C55A11" stroke="#FF0000" stroke-width="8"/>
<circle cx="1453.4" cy="1965.0" r="28.0" fill="#FF0000"/>
<path d="M1540.0,1890.0 C1550.0,1889.0 1583.3,1883.2 1600.0,1884.0 C1616.7,1884.8 1632.3,1887.3 1640.0,1895.0 C1647.7,1902.7 1649.3,1917.5 1646.0,1930.0 C1642.7,1942.5 1632.7,1957.5 1620.0,1970.0 C1607.3,1982.5 1590.0,1998.0 1570.0,2005.0 C1550.0,2012.0 1513.0,2017.0 1500.0,2012.0 C1487.0,2007.0 1490.3,1990.3 1492.0,1975.0 C1493.7,1959.7 1502.0,1934.2 1510.0,1920.0 C1518.0,1905.8 1535.0,1895.0 1540.0,1890.0Z" fill="none" stroke="#1F3864" stroke-width="5" stroke-dasharray="16,9"/>
<rect x="-71.2" y="-19.0" width="142.5" height="38.0" rx="19.0" transform="translate(2074.1,1841.4) rotate(35.9)" fill="#8FAADC" stroke="#1F3864" stroke-width="8"/>
<rect x="-69.1" y="-19.0" width="138.3" height="38.0" rx="19.0" transform="translate(2088.9,1785.8) rotate(115.0)" fill="#8FAADC" stroke="#1F3864" stroke-width="8"/>
<circle cx="2060.0" cy="1752.0" r="40.0" fill="#BF9000" stroke="#1F3864" stroke-width="8"/>
<circle cx="1710.0" cy="1786.0" r="52.0" fill="#808080" stroke="#1F3864" stroke-width="8"/>
<polygon points="1792.8,1772.4 1834.3,1755.6 1829.8,1800.5" fill="#FFC000" stroke="#1F3864" stroke-width="8" stroke-linejoin="miter"/>
<rect x="-54.0" y="-21.0" width="108.1" height="42.0" rx="21.0" transform="translate(1859.7,1816.2) rotate(114.6)" fill="#F4B183" stroke="#FF0000" stroke-width="8"/>
<path d="M1879.9,1770.5 C1879.0,1767.5 1873.0,1756.3 1874.7,1752.2 C1876.4,1748.1 1885.5,1748.0 1890.0,1746.0 C1894.5,1744.0 1899.5,1742.9 1902.0,1740.0 C1904.5,1737.1 1904.2,1730.6 1904.7,1728.7" fill="none" stroke="#FF0000" stroke-width="6" stroke-linecap="butt" stroke-linejoin="round"/>
<path d="M1967.4,1719.6 C1970.2,1725.0 1985.1,1739.3 1984.4,1752.2 C1983.8,1765.1 1962.2,1785.4 1963.5,1796.7 C1964.8,1808.0 1987.4,1816.3 1992.2,1820.2" fill="none" stroke="#1F3864" stroke-width="7" stroke-linecap="butt" stroke-linejoin="round"/>
<polygon points="2132.8,1743.4 2188.5,1738.7 2163.4,1788.9" fill="#FF0000"/>
<ellipse cx="0" cy="0" rx="51.0" ry="54.0" transform="translate(2202.6,1821.8) rotate(10)" fill="#FF0000" stroke="#1F3864" stroke-width="8"/>
<rect x="-35.0" y="-26.0" width="70.0" height="52.0" rx="26.0" transform="translate(2160.3,1868.8) rotate(20.0)" fill="#2F5597" stroke="#FF0000" stroke-width="8"/>
<path d="M2083.4,1865.7 C2081.8,1868.0 2083.4,1877.5 2074.0,1879.8 C2064.6,1882.1 2036.4,1876.7 2027.0,1879.8 C2017.6,1882.9 2019.7,1888.6 2017.6,1898.6 C2015.5,1908.6 2015.0,1933.1 2014.5,1940.0" fill="none" stroke="#1F3864" stroke-width="7" stroke-linecap="butt" stroke-linejoin="round"/>
<path d="M2140.0,1885.0 C2141.3,1888.8 2143.0,1903.2 2148.0,1908.0 C2153.0,1912.8 2166.3,1913.0 2170.0,1914.0" fill="none" stroke="#1F3864" stroke-width="7" stroke-linecap="butt" stroke-linejoin="round"/>
<path d="M1990.0,1810.0 C1998.3,1809.2 2022.5,1801.7 2040.0,1805.0 C2057.5,1808.3 2082.0,1817.5 2095.0,1830.0 C2108.0,1842.5 2115.5,1864.2 2118.0,1880.0 C2120.5,1895.8 2118.0,1916.7 2110.0,1925.0 C2102.0,1933.3 2085.0,1933.3 2070.0,1930.0 C2055.0,1926.7 2034.2,1916.7 2020.0,1905.0 C2005.8,1893.3 1990.0,1875.8 1985.0,1860.0 C1980.0,1844.2 1989.2,1818.3 1990.0,1810.0Z" fill="none" stroke="#1F3864" stroke-width="5" stroke-dasharray="16,9"/>
<rect x="-31.0" y="-25.0" width="62.0" height="50.0" rx="25.0" transform="translate(1921.7,1840.0) rotate(-60.0)" fill="#404040" stroke="#1F3864" stroke-width="8"/>
<rect x="-54.6" y="-21.0" width="109.3" height="42.0" rx="21.0" transform="translate(1914.8,1890.7) rotate(115.7)" fill="#FFFF00" stroke="#1F3864" stroke-width="8"/>
<path d="M1935.0,1842.0 C1936.2,1839.7 1941.5,1832.5 1942.0,1828.0 C1942.5,1823.5 1938.7,1817.2 1938.0,1815.0" fill="none" stroke="#1F3864" stroke-width="6" stroke-linecap="butt" stroke-linejoin="round"/>
<rect x="-35.0" y="-26.0" width="70.0" height="52.0" rx="26.0" transform="translate(2123.8,1937.8) rotate(20.0)" fill="#404040" stroke="#1F3864" stroke-width="8"/>
<rect x="-102.3" y="-21.0" width="204.6" height="42.0" rx="21.0" transform="translate(1935.7,1968.1) rotate(-37.2)" fill="#8FAADC" stroke="#1F3864" stroke-width="8"/>
<path d="M2015.0,1919.0 C2016.8,1912.4 2015.4,1886.3 2025.5,1879.3 C2035.6,1872.3 2065.9,1880.0 2075.7,1877.2 C2085.4,1874.4 2082.6,1865.0 2084.0,1862.5" fill="none" stroke="#1F3864" stroke-width="7" stroke-linecap="butt" stroke-linejoin="round"/>
<circle cx="1983.7" cy="1983.7" r="53.0" fill="#FF0000" stroke="#1F3864" stroke-width="8"/>
<rect x="-69.1" y="-19.0" width="138.3" height="38.0" rx="19.0" transform="translate(2130.1,1990.0) rotate(0.0)" fill="#8FAADC" stroke="#1F3864" stroke-width="8"/>
<circle cx="2080.0" cy="1980.6" r="27.0" fill="#FF0000"/>
<path d="M2188.0,1988.0 C2190.8,1985.8 2198.7,1975.0 2205.0,1975.0 C2211.3,1975.0 2218.5,1984.5 2226.0,1988.0 C2233.5,1991.5 2246.0,1994.7 2250.0,1996.0" fill="none" stroke="#1F3864" stroke-width="7" stroke-linecap="butt" stroke-linejoin="round"/>
<path d="M1850.0,1925.0 C1855.0,1924.2 1870.0,1918.3 1880.0,1920.0 C1890.0,1921.7 1902.5,1928.3 1910.0,1935.0 C1917.5,1941.7 1926.7,1952.5 1925.0,1960.0 C1923.3,1967.5 1910.8,1976.3 1900.0,1980.0 C1889.2,1983.7 1870.0,1985.3 1860.0,1982.0 C1850.0,1978.7 1841.7,1969.5 1840.0,1960.0 C1838.3,1950.5 1848.3,1930.8 1850.0,1925.0Z" fill="none" stroke="#1F3864" stroke-width="5" stroke-dasharray="16,9"/>
<rect x="-36.2" y="-23.5" width="72.5" height="47.0" rx="23.5" transform="translate(1797.5,1887.5) rotate(101.3)" fill="#FF0000"/>
<rect x="-28.5" y="-17.0" width="57.0" height="34.0" rx="17.0" transform="translate(1745.0,1935.0) rotate(90.0)" fill="#FFE699" stroke="#FF0000" stroke-width="8"/>
<rect x="-31.0" y="-26.0" width="62.0" height="52.0" rx="26.0" transform="translate(1783.2,1929.9) rotate(15.0)" fill="#FFC000" stroke="#FF0000" stroke-width="8"/>
<circle cx="1762.0" cy="1960.0" r="11.0" fill="#FF0000"/>
<path d="M1678.7,1909.0 C1682.6,1911.6 1699.6,1916.4 1702.2,1924.7 C1704.8,1933.0 1691.8,1951.6 1694.4,1958.6 C1697.0,1965.6 1714.1,1965.2 1718.0,1966.5" fill="none" stroke="#FF0000" stroke-width="6" stroke-linecap="butt" stroke-linejoin="round"/>
<circle cx="1699.6" cy="2047.4" r="46.0" fill="#808080" stroke="#1F3864" stroke-width="8"/>
<circle cx="1681.3" cy="1982.1" r="38.0" fill="#BF9000" stroke="#1F3864" stroke-width="8"/>
<rect x="-80.5" y="-23.5" width="160.9" height="47.0" rx="23.5" transform="translate(1765.0,2027.8) rotate(53.4)" fill="#808080" stroke="#FF0000" stroke-width="8"/>
<polygon points="1625.8,2078.0 1678.0,2057.1 1672.8,2112.0" fill="#FF0000"/>
<circle cx="1767.6" cy="2123.2" r="52.0" fill="#548235" stroke="#1F3864" stroke-width="8"/>
<polygon points="1810.8,2019.4 1849.0,2003.7 1847.8,2048.7" fill="#F4B183" stroke="#1F3864" stroke-width="8" stroke-linejoin="miter"/>
<circle cx="1893.9" cy="2045.4" r="23.0" fill="#BF9000" stroke="#FF0000" stroke-width="8"/>
<rect x="-36.0" y="-26.0" width="72.0" height="52.0" rx="26.0" transform="translate(1879.3,2100.8) rotate(25.0)" fill="#FFE699" stroke="#FF0000" stroke-width="8"/>
<polygon points="1901.9,2080.8 1929.8,2067.3 1926.2,2111.4" fill="#7030A0" stroke="#1F3864" stroke-width="8" stroke-linejoin="miter"/>
<rect x="-26.0" y="-18.5" width="52.0" height="37.0" rx="18.5" transform="translate(1985.0,2072.0) rotate(25.0)" fill="#8FAADC" stroke="#1F3864" stroke-width="8"/>
<polygon points="2052.4,2039.2 2098.2,2035.6 2077.6,2062.6" fill="#FFC000" stroke="#1F3864" stroke-width="8" stroke-linejoin="miter"/>
<rect x="-81.5" y="-20.0" width="163.0" height="40.0" rx="20.0" transform="translate(2020.4,2093.4) rotate(-20.9)" fill="#F4B183" stroke="#1F3864" stroke-width="8"/>
<path d="M2044.4,2113.3 C2045.4,2117.5 2046.4,2132.8 2050.6,2138.4 C2054.8,2144.0 2066.3,2145.4 2069.4,2146.8" fill="none" stroke="#1F3864" stroke-width="7" stroke-linecap="butt" stroke-linejoin="round"/>
<rect x="-36.5" y="-16.5" width="73.0" height="33.0" rx="16.5" transform="translate(2135.0,2060.0) rotate(-10.0)" fill="none" stroke="#1F3864" stroke-width="7"/>
<ellipse cx="0" cy="0" rx="54.0" ry="54.0" transform="translate(2141.5,2111.2) rotate(0)" fill="#FF0000" stroke="#1F3864" stroke-width="8"/>
<rect x="-58.4" y="-25.0" width="116.7" height="50.0" rx="25.0" transform="translate(2197.5,2047.5) rotate(13.0)" fill="#FF0000"/>
<path d="M2225,2035 L2245,2040 L2252,2055 L2270,2062 L2283,2075 L2262,2080 L2240,2068 Z" fill="#FF0000"/>
<rect x="-54.9" y="-21.0" width="109.7" height="42.0" rx="21.0" transform="translate(2106.5,2209.0) rotate(121.1)" fill="#F4B183" stroke="#FF0000" stroke-width="8"/>
<rect x="-36.5" y="-29.5" width="73.0" height="59.0" rx="29.5" transform="translate(1875.0,2193.0) rotate(90.0)" fill="none" stroke="#1F3864" stroke-width="7"/>
<path d="M1895.0,2120.0 C1900.0,2121.7 1918.3,2121.7 1925.0,2130.0 C1931.7,2138.3 1934.5,2156.7 1935.0,2170.0 C1935.5,2183.3 1933.8,2202.5 1928.0,2210.0 C1922.2,2217.5 1911.3,2218.3 1900.0,2215.0 C1888.7,2211.7 1867.5,2200.8 1860.0,2190.0 C1852.5,2179.2 1849.2,2161.7 1855.0,2150.0 C1860.8,2138.3 1888.3,2125.0 1895.0,2120.0Z" fill="none" stroke="#1F3864" stroke-width="5" stroke-dasharray="16,9"/>
<circle cx="1955.0" cy="2187.0" r="51.0" fill="#808080" stroke="#1F3864" stroke-width="8"/>
<path d="M2010.0,2175.0 C2015.0,2173.0 2029.7,2163.5 2040.0,2163.0 C2050.3,2162.5 2066.3,2163.3 2072.0,2172.0 C2077.7,2180.7 2078.5,2204.0 2074.0,2215.0 C2069.5,2226.0 2055.7,2234.7 2045.0,2238.0 C2034.3,2241.3 2016.5,2241.3 2010.0,2235.0 C2003.5,2228.7 2006.0,2210.0 2006.0,2200.0 C2006.0,2190.0 2009.3,2179.2 2010.0,2175.0Z" fill="none" stroke="#1F3864" stroke-width="5" stroke-dasharray="16,9"/>
<rect x="-31.8" y="-15.0" width="63.5" height="30.0" rx="15.0" transform="translate(1937.5,2255.0) rotate(63.4)" fill="#FF0000"/>
<path d="M1935,2270 L1955,2275 L1950,2290 L1960,2300 L1945,2295 Z" fill="#FF0000"/>
<polygon points="2272.9,1762.1 2321.2,1758.8 2298.7,1802.5" fill="#C00000" stroke="#FF0000" stroke-width="9" stroke-linejoin="miter"/>
<rect x="-54.5" y="-20.0" width="108.9" height="40.0" rx="20.0" transform="translate(2349.9,1826.7) rotate(119.5)" fill="#8FAADC" stroke="#1F3864" stroke-width="8"/>
<path d="M2366.8,1778.4 C2366.0,1776.7 2362.1,1771.4 2362.0,1768.0 C2361.9,1764.6 2360.7,1760.7 2366.0,1758.0 C2371.3,1755.3 2388.8,1755.1 2394.0,1752.0 C2399.2,1748.9 2396.4,1741.3 2396.9,1739.2" fill="none" stroke="#1F3864" stroke-width="7" stroke-linecap="butt" stroke-linejoin="round"/>
<polygon points="2339.5,1888.8 2386.6,1885.4 2365.3,1928.1" fill="#7030A0" stroke="#1F3864" stroke-width="8" stroke-linejoin="miter"/>
<rect x="-56.0" y="-34.0" width="112.0" height="68.0" rx="34.0" transform="translate(2468.7,1911.6) rotate(15.0)" fill="none" stroke="#1F3864" stroke-width="8"/>
<path d="M2529.0,1920.0 C2532.4,1917.3 2544.1,1899.5 2549.7,1903.8 C2555.3,1908.1 2555.8,1940.4 2562.8,1945.6 C2569.8,1950.8 2586.7,1936.8 2591.5,1935.1" fill="none" stroke="#1F3864" stroke-width="7" stroke-linecap="butt" stroke-linejoin="round"/>
<circle cx="2650.8" cy="1954.5" r="23.5" fill="#F4B183" stroke="#FF0000" stroke-width="8"/>
<polygon points="2292.5,1975.0 2339.6,1972.8 2318.3,2014.3" fill="#F4B183" stroke="#1F3864" stroke-width="8" stroke-linejoin="miter"/>
<ellipse cx="0" cy="0" rx="49.5" ry="52.0" transform="translate(2419.1,2039.6) rotate(20)" fill="#548235" stroke="#1F3864" stroke-width="8"/>
<rect x="-53.0" y="-18.5" width="106.0" height="37.0" rx="18.5" transform="translate(2540.6,2077.4) rotate(119.4)" fill="#FFFF00" stroke="#FF0000" stroke-width="8"/>
<path d="M2557.5,2021.3 C2557.1,2019.4 2554.2,2013.2 2555.0,2010.0 C2555.8,2006.8 2557.8,2004.0 2562.0,2002.0 C2566.2,2000.0 2576.2,2000.9 2580.0,1998.0 C2583.8,1995.1 2584.2,1986.9 2585.0,1984.7" fill="none" stroke="#FF0000" stroke-width="6" stroke-linecap="butt" stroke-linejoin="round"/>
<circle cx="2305.4" cy="2148.0" r="40.0" fill="#BF9000" stroke="#1F3864" stroke-width="8"/>
<polygon points="2377.3,2138.9 2433.4,2135.0 2407.3,2185.9" fill="#FF0000"/>
<polygon points="2518.2,2156.5 2565.5,2154.3 2541.8,2195.6" fill="#C00000" stroke="#FF0000" stroke-width="9" stroke-linejoin="miter"/>
<circle cx="2244.0" cy="1918.1" r="24.0" fill="#FFC000" stroke="#FF0000" stroke-width="8"/>
<path d="M2215.0,1925.0 C2219.2,1928.8 2231.7,1941.3 2240.0,1948.0 C2248.3,1954.7 2260.3,1957.2 2265.0,1965.0 C2269.7,1972.8 2273.0,1989.5 2268.0,1995.0 C2263.0,2000.5 2245.5,1999.7 2235.0,1998.0 C2224.5,1996.3 2210.8,1993.0 2205.0,1985.0 C2199.2,1977.0 2198.3,1960.0 2200.0,1950.0 C2201.7,1940.0 2212.5,1929.2 2215.0,1925.0Z" fill="none" stroke="#1F3864" stroke-width="5" stroke-dasharray="16,9"/>
<rect x="-49.0" y="-19.0" width="98.1" height="38.0" rx="19.0" transform="translate(1748.0,2194.4) rotate(0.0)" fill="#F4B183" stroke="#FF0000" stroke-width="8"/>
<path d="M1793.0,2193.0 C1795.8,2190.8 1803.8,2178.8 1810.0,2180.0 C1816.2,2181.2 1824.2,2197.5 1830.0,2200.0 C1835.8,2202.5 1842.5,2195.8 1845.0,2195.0" fill="none" stroke="#FF0000" stroke-width="6" stroke-linecap="butt" stroke-linejoin="round"/>
<rect x="-54.0" y="-19.5" width="108.0" height="39.0" rx="19.5" transform="translate(1711.4,2230.9) rotate(37.4)" fill="#FFFF00" stroke="#FF0000" stroke-width="8"/>
<path d="M1756.0,2255.0 C1758.0,2255.8 1764.8,2255.0 1768.0,2260.0 C1771.2,2265.0 1771.0,2280.0 1775.0,2285.0 C1779.0,2290.0 1789.2,2289.2 1792.0,2290.0" fill="none" stroke="#FF0000" stroke-width="6" stroke-linecap="butt" stroke-linejoin="round"/>
<rect x="-46.8" y="-18.0" width="93.5" height="36.0" rx="18.0" transform="translate(1704.8,2276.7) rotate(0.0)" fill="#FFFF00" stroke="#1F3864" stroke-width="8"/>
<path d="M1760.0,2268.0 C1763.3,2268.7 1773.3,2269.2 1780.0,2272.0 C1786.7,2274.8 1796.7,2282.8 1800.0,2285.0" fill="none" stroke="#1F3864" stroke-width="7" stroke-linecap="butt" stroke-linejoin="round"/>
<path d="M1872.0,2254.5 C1872.5,2257.6 1881.2,2268.9 1874.7,2272.8 C1868.2,2276.7 1839.0,2272.8 1832.9,2278.0 C1826.8,2283.2 1837.2,2299.7 1838.0,2304.0" fill="none" stroke="#1F3864" stroke-width="7" stroke-linecap="butt" stroke-linejoin="round"/>
<polygon points="2024.2,2297.1 2064.6,2297.1 2043.3,2263.4" fill="#F4B183" stroke="#1F3864" stroke-width="8" stroke-linejoin="miter"/>
<rect x="-34.0" y="-26.0" width="68.0" height="52.0" rx="26.0" transform="translate(2027.5,2325.0) rotate(20.0)" fill="#FFC000" stroke="#FF0000" stroke-width="8"/>
<rect x="-48.6" y="-18.5" width="97.2" height="37.0" rx="18.5" transform="translate(2160.0,2291.0) rotate(105.4)" fill="#FFFF00" stroke="#1F3864" stroke-width="8"/>
<rect x="-35.0" y="-24.5" width="70.0" height="49.0" rx="24.5" transform="translate(1685.3,2364.2) rotate(90.0)" fill="#C55A11" stroke="#FF0000" stroke-width="8"/>
<path d="M1800.0,2300.0 C1804.2,2302.5 1820.0,2303.3 1825.0,2315.0 C1830.0,2326.7 1831.7,2352.5 1830.0,2370.0 C1828.3,2387.5 1822.5,2404.2 1815.0,2420.0 C1807.5,2435.8 1794.5,2455.0 1785.0,2465.0 C1775.5,2475.0 1764.3,2487.5 1758.0,2480.0 C1751.7,2472.5 1748.0,2443.3 1747.0,2420.0 C1746.0,2396.7 1748.2,2359.2 1752.0,2340.0 C1755.8,2320.8 1762.0,2311.7 1770.0,2305.0 C1778.0,2298.3 1795.0,2300.8 1800.0,2300.0Z" fill="none" stroke="#1F3864" stroke-width="5" stroke-dasharray="16,9"/>
<circle cx="1806.7" cy="2359.0" r="23.5" fill="#F4B183" stroke="#FF0000" stroke-width="8"/>
<circle cx="1894.3" cy="2346.0" r="39.0" fill="#BF9000" stroke="#1F3864" stroke-width="8"/>
<path d="M1924.3,2304.0 C1928.2,2306.6 1944.3,2311.5 1947.8,2319.8 C1951.3,2328.1 1942.6,2346.8 1945.2,2353.8 C1947.8,2360.8 1960.5,2360.3 1963.5,2361.6" fill="none" stroke="#FF0000" stroke-width="6" stroke-linecap="butt" stroke-linejoin="round"/>
<circle cx="2049.7" cy="2400.8" r="46.0" fill="#548235" stroke="#1F3864" stroke-width="8"/>
<rect x="-78.6" y="-23.5" width="157.2" height="47.0" rx="23.5" transform="translate(2011.8,2424.3) rotate(53.7)" fill="#808080" stroke="#FF0000" stroke-width="8"/>
<polygon points="1904.7,2455.6 1963.5,2455.6 1933.4,2408.6" fill="#FF0000"/>
<circle cx="2138.5" cy="2440.0" r="23.5" fill="#BF9000" stroke="#FF0000" stroke-width="8"/>
<circle cx="1698.3" cy="2465.0" r="28.0" fill="#FF0000"/>
<rect x="-35.0" y="-24.0" width="70.0" height="48.0" rx="24.0" transform="translate(1832.9,2488.3) rotate(90.0)" fill="#2F5597" stroke="#FF0000" stroke-width="8"/>
<rect x="-45.0" y="-17.5" width="89.9" height="35.0" rx="17.5" transform="translate(2061.4,2523.6) rotate(0.0)" fill="#FFFF00" stroke="#FF0000" stroke-width="8"/>
<path d="M2112.0,2520.0 C2114.7,2518.3 2123.3,2508.7 2128.0,2510.0 C2132.7,2511.3 2136.3,2524.7 2140.0,2528.0 C2143.7,2531.3 2148.3,2529.7 2150.0,2530.0" fill="none" stroke="#FF0000" stroke-width="6" stroke-linecap="butt" stroke-linejoin="round"/>
<path d="M2110.0,2500.0 C2116.7,2499.2 2138.3,2491.7 2150.0,2495.0 C2161.7,2498.3 2175.8,2505.8 2180.0,2520.0 C2184.2,2534.2 2180.0,2564.2 2175.0,2580.0 C2170.0,2595.8 2161.7,2611.7 2150.0,2615.0 C2138.3,2618.3 2115.0,2610.8 2105.0,2600.0 C2095.0,2589.2 2089.2,2566.7 2090.0,2550.0 C2090.8,2533.3 2106.7,2508.3 2110.0,2500.0Z" fill="none" stroke="#1F3864" stroke-width="5" stroke-dasharray="16,9"/>
<polygon points="1954.4,2582.9 2002.7,2582.9 1979.1,2543.5" fill="#C00000" stroke="#FF0000" stroke-width="9" stroke-linejoin="miter"/>
<circle cx="1827.6" cy="2583.6" r="23.5" fill="#FFC000" stroke="#FF0000" stroke-width="8"/>
<path d="M1690.0,2560.0 C1698.3,2558.3 1726.3,2547.5 1740.0,2550.0 C1753.7,2552.5 1767.0,2563.3 1772.0,2575.0 C1777.0,2586.7 1778.7,2608.3 1770.0,2620.0 C1761.3,2631.7 1737.5,2640.0 1720.0,2645.0 C1702.5,2650.0 1675.0,2657.5 1665.0,2650.0 C1655.0,2642.5 1655.8,2615.0 1660.0,2600.0 C1664.2,2585.0 1685.0,2566.7 1690.0,2560.0Z" fill="none" stroke="#1F3864" stroke-width="5" stroke-dasharray="16,9"/>
<rect x="-44.5" y="-17.0" width="88.9" height="34.0" rx="17.0" transform="translate(2203.6,2241.4) rotate(0.0)" fill="#8FAADC" stroke="#1F3864" stroke-width="8"/>
<path d="M2252.0,2238.0 C2254.2,2237.0 2260.0,2230.0 2265.0,2232.0 C2270.0,2234.0 2275.8,2248.0 2282.0,2250.0 C2288.2,2252.0 2298.7,2245.0 2302.0,2244.0" fill="none" stroke="#1F3864" stroke-width="7" stroke-linecap="butt" stroke-linejoin="round"/>
<path d="M2225.0,2200.0 C2234.2,2200.8 2262.5,2198.3 2280.0,2205.0 C2297.5,2211.7 2315.3,2224.2 2330.0,2240.0 C2344.7,2255.8 2362.2,2284.7 2368.0,2300.0 C2373.8,2315.3 2373.0,2328.7 2365.0,2332.0 C2357.0,2335.3 2337.5,2328.7 2320.0,2320.0 C2302.5,2311.3 2274.7,2291.7 2260.0,2280.0 C2245.3,2268.3 2237.8,2263.3 2232.0,2250.0 C2226.2,2236.7 2226.2,2208.3 2225.0,2200.0Z" fill="none" stroke="#1F3864" stroke-width="5" stroke-dasharray="16,9"/>
<rect x="-35.0" y="-26.0" width="70.0" height="52.0" rx="26.0" transform="translate(2404.7,2266.2) rotate(25.0)" fill="#2F5597" stroke="#FF0000" stroke-width="8"/>
<circle cx="2489.6" cy="2314.6" r="23.5" fill="#FFC000" stroke="#FF0000" stroke-width="8"/>
<rect x="-35.0" y="-26.0" width="70.0" height="52.0" rx="26.0" transform="translate(2229.7,2344.6) rotate(25.0)" fill="#C55A11" stroke="#FF0000" stroke-width="8"/>
<circle cx="2325.0" cy="2377.3" r="27.5" fill="#FF0000"/>
<rect x="-56.5" y="-31.5" width="113.0" height="63.0" rx="31.5" transform="translate(2185.0,2395.0) rotate(80.0)" fill="none" stroke="#1F3864" stroke-width="7"/>
<rect x="-80.4" y="-20.0" width="160.8" height="40.0" rx="20.0" transform="translate(2263.7,2490.9) rotate(-21.6)" fill="#F4B183" stroke="#1F3864" stroke-width="8"/>
<path d="M2338.0,2462.0 C2340.8,2459.7 2349.3,2449.7 2355.0,2448.0 C2360.7,2446.3 2364.5,2453.3 2372.0,2452.0 C2379.5,2450.7 2392.8,2440.3 2400.0,2440.0 C2407.2,2439.7 2412.5,2448.3 2415.0,2450.0" fill="none" stroke="#1F3864" stroke-width="7" stroke-linecap="butt" stroke-linejoin="round"/>
<path d="M2165.0,2450.0 C2174.2,2451.3 2215.8,2451.3 2220.0,2458.0 C2224.2,2464.7 2195.0,2484.7 2190.0,2490.0" fill="none" stroke="#1F3864" stroke-width="7" stroke-linecap="butt" stroke-linejoin="round"/>
<path d="M2430.0,2360.0 C2436.7,2360.8 2460.7,2355.0 2470.0,2365.0 C2479.3,2375.0 2485.2,2402.5 2486.0,2420.0 C2486.8,2437.5 2484.3,2460.8 2475.0,2470.0 C2465.7,2479.2 2441.2,2481.7 2430.0,2475.0 C2418.8,2468.3 2411.3,2445.8 2408.0,2430.0 C2404.7,2414.2 2406.3,2391.7 2410.0,2380.0 C2413.7,2368.3 2426.7,2363.3 2430.0,2360.0Z" fill="none" stroke="#1F3864" stroke-width="5" stroke-dasharray="16,9"/>
<circle cx="2220.5" cy="2571.9" r="24.0" fill="#F4B183" stroke="#FF0000" stroke-width="8"/>
<path d="M1340.0,2035.0 C1348.3,2034.2 1373.3,2027.5 1390.0,2030.0 C1406.7,2032.5 1429.7,2040.8 1440.0,2050.0 C1450.3,2059.2 1453.7,2074.5 1452.0,2085.0 C1450.3,2095.5 1442.0,2108.0 1430.0,2113.0 C1418.0,2118.0 1395.8,2117.2 1380.0,2115.0 C1364.2,2112.8 1344.2,2109.2 1335.0,2100.0 C1325.8,2090.8 1324.2,2070.8 1325.0,2060.0 C1325.8,2049.2 1337.5,2039.2 1340.0,2035.0Z" fill="none" stroke="#1F3864" stroke-width="5" stroke-dasharray="16,9"/>
<rect x="-36.0" y="-26.0" width="72.0" height="52.0" rx="26.0" transform="translate(1547.4,2059.7) rotate(-60.0)" fill="#2F5597" stroke="#FF0000" stroke-width="8"/>
<path d="M1584.0,2072.8 C1584.4,2077.2 1592.7,2092.4 1586.6,2098.9 C1580.5,2105.4 1553.9,2106.3 1547.4,2112.0 C1540.9,2117.7 1547.4,2129.4 1547.4,2132.9" fill="none" stroke="#FF0000" stroke-width="6" stroke-linecap="butt" stroke-linejoin="round"/>
<circle cx="1484.7" cy="2134.2" r="24.0" fill="#FFC000" stroke="#FF0000" stroke-width="8"/>
<rect x="-77.2" y="-21.0" width="154.4" height="42.0" rx="21.0" transform="translate(1518.7,2207.3) rotate(120.7)" fill="#808080" stroke="#FF0000" stroke-width="8"/>
<rect x="-33.5" y="-23.5" width="67.0" height="47.0" rx="23.5" transform="translate(1612.7,2172.0) rotate(90.0)" fill="#FFC000" stroke="#FF0000" stroke-width="8"/>
<polygon points="1588.5,2209.4 1632.3,2194.8 1626.6,2238.6" fill="#C00000" stroke="#FF0000" stroke-width="9" stroke-linejoin="miter"/>
<rect x="-33.5" y="-26.0" width="67.0" height="52.0" rx="26.0" transform="translate(1352.8,2236.0) rotate(30.0)" fill="#C55A11" stroke="#FF0000" stroke-width="8"/>
<circle cx="1557.9" cy="2326.2" r="24.0" fill="#BF9000" stroke="#FF0000" stroke-width="8"/>
<path d="M1420.0,2335.0 C1428.3,2333.3 1455.8,2323.3 1470.0,2325.0 C1484.2,2326.7 1498.7,2335.0 1505.0,2345.0 C1511.3,2355.0 1513.8,2373.3 1508.0,2385.0 C1502.2,2396.7 1484.7,2408.8 1470.0,2415.0 C1455.3,2421.2 1432.0,2426.2 1420.0,2422.0 C1408.0,2417.8 1401.3,2402.0 1398.0,2390.0 C1394.7,2378.0 1396.3,2359.2 1400.0,2350.0 C1403.7,2340.8 1416.7,2337.5 1420.0,2335.0Z" fill="none" stroke="#1F3864" stroke-width="5" stroke-dasharray="16,9"/>
<rect x="-82.4" y="-21.0" width="164.8" height="42.0" rx="21.0" transform="translate(1568.5,2459.5) rotate(42.2)" fill="#F4B183" stroke="#1F3864" stroke-width="8"/>
<path d="M1618.3,2513.7 C1623.4,2515.1 1642.2,2515.2 1648.7,2522.4 C1655.2,2529.6 1652.4,2549.2 1657.4,2557.1 C1662.5,2565.0 1675.4,2567.8 1679.0,2570.0" fill="none" stroke="#1F3864" stroke-width="7" stroke-linecap="butt" stroke-linejoin="round"/>
</g>
<circle cx="1953.5" cy="1971" r="789.5" fill="none" stroke="#000" stroke-width="9"/>
<g font-size="140" fill="#000" stroke="#000" stroke-width="6" stroke-linejoin="round"><text transform="translate(1197.9,2050.2) rotate(82.88) scale(0.810,1)" text-anchor="middle">E</text><text transform="translate(1212.4,2130.8) rotate(76.77) scale(0.959,1)" text-anchor="middle">x</text><text transform="translate(1230.8,2195.9) rotate(71.72) scale(1.334,1)" text-anchor="middle">t</text><text transform="translate(1252.8,2254.6) rotate(67.04) scale(1.160,1)" text-anchor="middle">r</text><text transform="translate(1280.3,2312.6) rotate(62.25) scale(0.954,1)" text-anchor="middle">a</text><text transform="translate(1325.3,2387.3) rotate(55.74) scale(0.937,1)" text-anchor="middle">c</text><text transform="translate(1371.4,2448.4) rotate(50.03) scale(0.992,1)" text-anchor="middle">e</text><text transform="translate(1414.5,2495.6) rotate(45.26) scale(1.142,1)" text-anchor="middle">l</text><text transform="translate(1445.0,2524.7) rotate(42.11) scale(1.142,1)" text-anchor="middle">l</text><text transform="translate(1496.6,2567.5) rotate(37.11) scale(1.045,1)" text-anchor="middle">u</text><text transform="translate(1551.8,2605.5) rotate(32.11) scale(1.142,1)" text-anchor="middle">l</text><text transform="translate(1607.8,2637.5) rotate(27.30) scale(0.954,1)" text-anchor="middle">a</text><text transform="translate(1672.8,2667.3) rotate(21.96) scale(1.160,1)" text-anchor="middle">r</text><text transform="translate(1787.4,2703.3) rotate(12.99) scale(0.858,1)" text-anchor="middle">P</text><text transform="translate(1873.7,2718.1) rotate(6.45) scale(1.049,1)" text-anchor="middle">o</text><text transform="translate(1941.0,2722.8) rotate(1.42) scale(1.142,1)" text-anchor="middle">l</text><text transform="translate(2004.3,2721.7) rotate(-3.31) scale(1.003,1)" text-anchor="middle">y</text><text transform="translate(2114.6,2707.3) rotate(-11.61) scale(1.143,1)" text-anchor="middle">m</text><text transform="translate(2211.3,2680.7) rotate(-19.10) scale(0.992,1)" text-anchor="middle">e</text><text transform="translate(2291.0,2648.0) rotate(-25.53) scale(1.160,1)" text-anchor="middle">r</text><text transform="translate(2338.8,2623.1) rotate(-29.55) scale(1.142,1)" text-anchor="middle">i</text><text transform="translate(2391.3,2590.4) rotate(-34.17) scale(0.937,1)" text-anchor="middle">c</text><text transform="translate(2477.9,2522.1) rotate(-42.40) scale(0.762,1)" text-anchor="middle">S</text><text transform="translate(2535.9,2463.1) rotate(-48.58) scale(1.045,1)" text-anchor="middle">u</text><text transform="translate(2596.2,2385.2) rotate(-55.93) scale(1.045,1)" text-anchor="middle">b</text><text transform="translate(2637.8,2316.1) rotate(-61.95) scale(0.866,1)" text-anchor="middle">s</text><text transform="translate(2664.2,2261.4) rotate(-66.49) scale(1.334,1)" text-anchor="middle">t</text><text transform="translate(2690.6,2191.7) rotate(-72.05) scale(0.954,1)" text-anchor="middle">a</text><text transform="translate(2712.2,2110.0) rotate(-78.36) scale(1.045,1)" text-anchor="middle">n</text><text transform="translate(2724.8,2024.7) rotate(-84.79) scale(0.937,1)" text-anchor="middle">c</text><text transform="translate(2728.0,1947.6) rotate(-90.55) scale(0.992,1)" text-anchor="middle">e</text></g>
<text x="1953" y="408.2" font-size="86" font-weight="bold" text-anchor="middle" fill="#000">Drought</text>
<text x="1953" y="518.2" font-size="86" font-weight="bold" text-anchor="middle" fill="#000">protection</text>
<text x="2781.5" y="700.0" font-size="86" font-weight="bold" text-anchor="middle" fill="#000">Aggregation</text>
<text x="3349.4" y="1355.6" font-size="86" font-weight="bold" text-anchor="middle" fill="#000">Adhesion</text>
<text x="3475.2" y="2158.0" font-size="86" font-weight="bold" text-anchor="middle" fill="#000">Trap for</text>
<text x="3475.2" y="2268.0" font-size="86" font-weight="bold" text-anchor="middle" fill="#000">nutrients</text>
<text x="3116.2" y="3001.8" font-size="86" font-weight="bold" text-anchor="middle" fill="#000">Signaling</text>
<text x="2386.3" y="3415.2" font-size="86" font-weight="bold" text-anchor="middle" fill="#000">Antibiotics</text>
<text x="2386.3" y="3525.2" font-size="86" font-weight="bold" text-anchor="middle" fill="#000">protection</text>
<text x="1520.5" y="3415.3" font-size="86" font-weight="bold" text-anchor="middle" fill="#000">Genetic</text>
<text x="1520.5" y="3525.3" font-size="86" font-weight="bold" text-anchor="middle" fill="#000">exchange</text>
<text x="790.5" y="2947.0" font-size="86" font-weight="bold" text-anchor="middle" fill="#000">Carbon</text>
<text x="790.5" y="3057.0" font-size="86" font-weight="bold" text-anchor="middle" fill="#000">source</text>
<text x="432" y="2104.0" font-size="86" font-weight="bold" text-anchor="middle" fill="#000">Pathogenicity</text>
<text x="432" y="2214.0" font-size="86" font-weight="bold" text-anchor="middle" fill="#000">or virulence</text>
<text x="432" y="2324.0" font-size="86" font-weight="bold" text-anchor="middle" fill="#000">factor</text>
<text x="554.5" y="1301.3" font-size="86" font-weight="bold" text-anchor="middle" fill="#000">Biofilm</text>
<text x="554.5" y="1411.3" font-size="86" font-weight="bold" text-anchor="middle" fill="#000">structure</text>
<text x="1121" y="646.5" font-size="86" font-weight="bold" text-anchor="middle" fill="#000">Symbiosis</text>
<text x="1121" y="756.5" font-size="86" font-weight="bold" text-anchor="middle" fill="#000">with plants</text>
</svg></body></html>
